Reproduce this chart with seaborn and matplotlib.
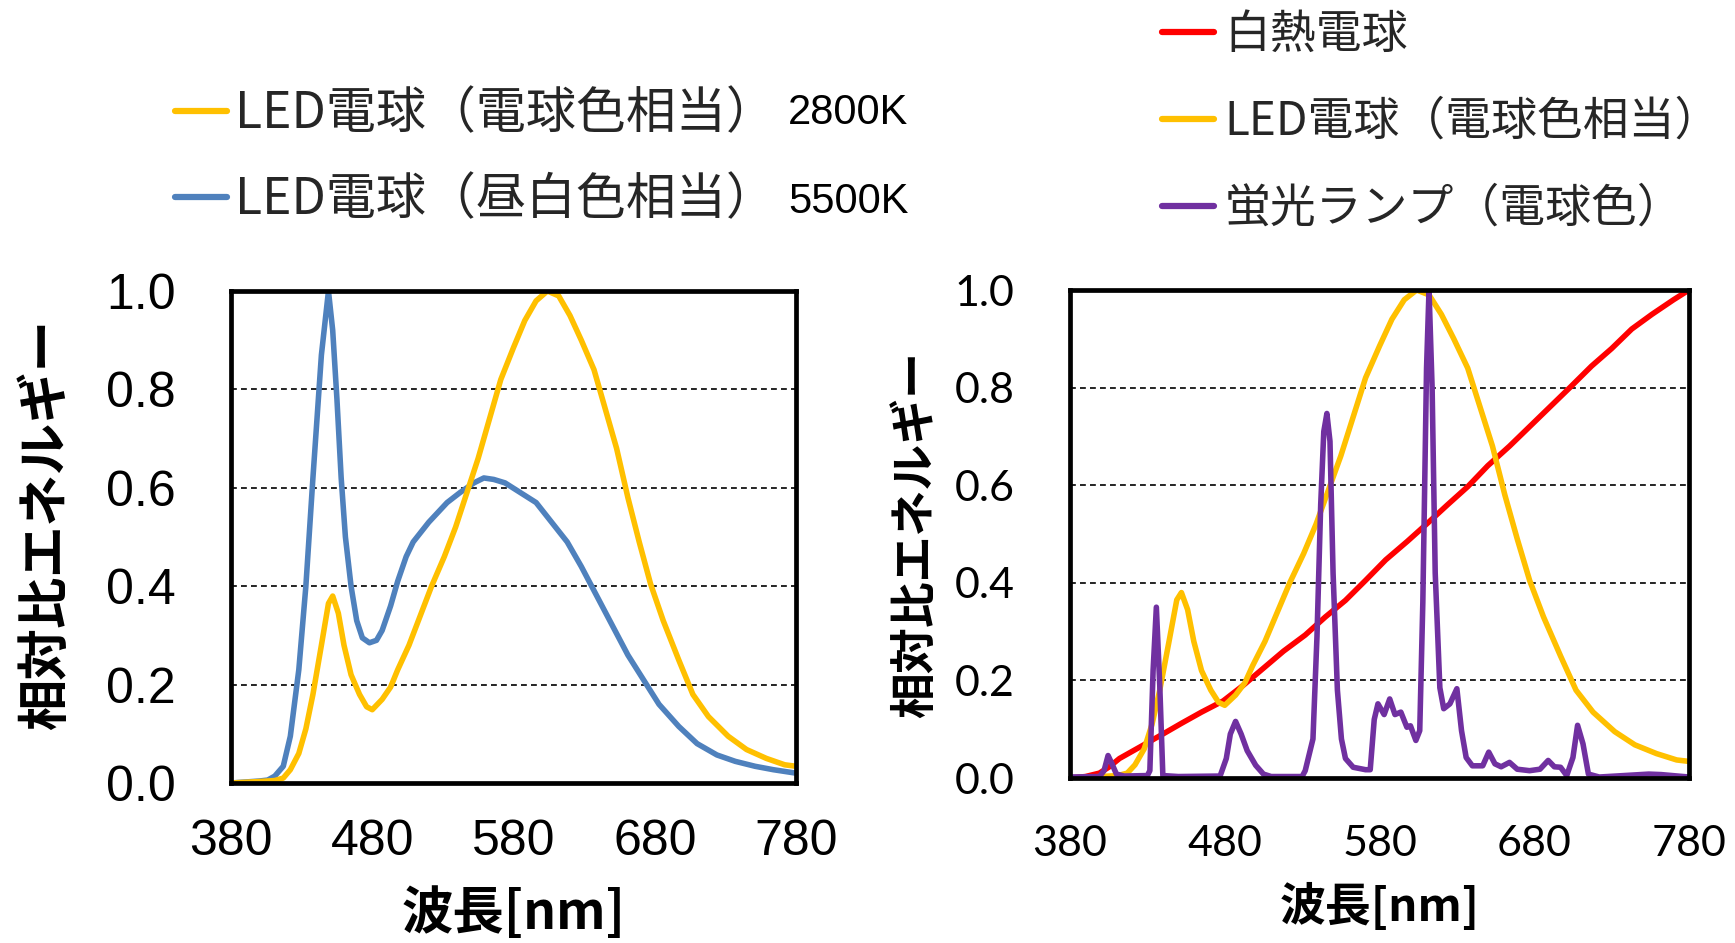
import numpy as np
import pandas as pd
import matplotlib
matplotlib.use("Agg")
import matplotlib.pyplot as plt
import seaborn as sns
from matplotlib import font_manager

# ---------------- data ----------------
led_warm_wl = [380, 400, 411, 417, 422, 428, 433, 438, 444, 449, 452, 456, 460, 465, 471, 476, 480,
               487, 493, 498, 506, 514, 522, 531, 539, 547, 555, 563, 571, 580, 588, 596, 604, 612,
               620, 628, 637, 645, 653, 661, 669, 677, 686, 697, 707, 718, 732, 745, 759, 772, 780]
led_warm_val = [0.0, 0.003, 0.005, 0.01, 0.027, 0.06, 0.11, 0.18, 0.28, 0.365, 0.38, 0.345, 0.28, 0.22,
                0.18, 0.155, 0.149, 0.17, 0.195, 0.23, 0.28, 0.34, 0.40, 0.46, 0.52, 0.59, 0.66, 0.74,
                0.82, 0.885, 0.94, 0.98, 1.0, 0.99, 0.95, 0.90, 0.84, 0.76, 0.68, 0.58, 0.49, 0.405,
                0.33, 0.25, 0.18, 0.135, 0.095, 0.068, 0.05, 0.037, 0.034]

led_day_wl = [380, 400, 406, 411, 417, 422, 428, 433, 438, 444, 449, 452, 455, 458, 461, 465, 469, 473,
              478, 483, 487, 493, 498, 504, 509, 520, 533, 542, 552, 559, 566, 574, 585, 596, 607, 618,
              628, 639, 650, 661, 672, 683, 697, 710, 724, 737, 751, 764, 780]
led_day_val = [0.0, 0.004, 0.006, 0.014, 0.034, 0.095, 0.23, 0.40, 0.62, 0.87, 1.0, 0.92, 0.78, 0.62,
               0.50, 0.40, 0.33, 0.295, 0.285, 0.29, 0.31, 0.36, 0.41, 0.46, 0.49, 0.53, 0.57, 0.59,
               0.61, 0.62, 0.617, 0.61, 0.59, 0.57, 0.53, 0.49, 0.44, 0.38, 0.32, 0.26, 0.21, 0.16,
               0.115, 0.08, 0.057, 0.044, 0.034, 0.027, 0.02]

incand_wl = [380, 390, 399, 405, 412, 426, 440, 452, 465, 479, 492, 505, 518, 532, 545, 558, 571,
             584, 598, 611, 624, 637, 650, 664, 677, 690, 703, 717, 730, 743, 756, 770, 780]
incand_val = [0.0, 0.003, 0.01, 0.022, 0.04, 0.065, 0.09, 0.112, 0.135, 0.158, 0.19, 0.225,
              0.26, 0.293, 0.33, 0.364, 0.405, 0.447, 0.485, 0.522, 0.56, 0.597, 0.64, 0.68, 0.72,
              0.76, 0.80, 0.844, 0.88, 0.92, 0.95, 0.98, 1.0]

fluor_wl = [380, 399, 402, 404.6, 407, 410, 415, 430, 431.6, 433.7, 435.8, 438, 440, 450, 477, 481,
            483.6, 487, 490.6, 494.5, 500, 505, 510, 530, 532, 537, 539.6, 542, 544, 546, 548, 550,
            552.8, 555.4, 558, 563, 571, 574, 576.6, 579, 583, 586.6, 590, 593.8, 597.7, 600, 603.5,
            606, 608, 610.4, 612, 614, 616, 619, 621.5, 625.5, 630, 633, 636, 640, 646.7, 650.6,
            654.6, 658.6, 664, 669, 677, 683.7, 689, 693, 697, 701, 705, 708, 711.5, 715, 722, 754,
            762, 780]
fluor_val = [0.002, 0.003, 0.015, 0.046, 0.03, 0.008, 0.004, 0.005, 0.015, 0.22, 0.35, 0.19, 0.005,
             0.003, 0.004, 0.04, 0.09, 0.116, 0.09, 0.056, 0.026, 0.008, 0.003, 0.003, 0.015, 0.08,
             0.29, 0.56, 0.71, 0.747, 0.69, 0.42, 0.18, 0.08, 0.04, 0.022, 0.017, 0.017, 0.12, 0.152,
             0.13, 0.162, 0.13, 0.135, 0.104, 0.107, 0.077, 0.097, 0.36, 0.84, 1.0, 0.80, 0.42, 0.185,
             0.142, 0.152, 0.183, 0.097, 0.042, 0.025, 0.025, 0.053, 0.029, 0.023, 0.032, 0.018,
             0.015, 0.018, 0.036, 0.023, 0.022, 0.005, 0.042, 0.108, 0.07, 0.008, 0.002, 0.008,
             0.007, 0.002]

lab_warm = "LED電球（電球色相当）"
lab_day = "LED電球（昼白色相当）"
lab_inc = "白熱電球"
lab_flu = "蛍光ランプ（電球色）"
k_labels = ["2800K", "5500K"]

x_ticks = [380, 480, 580, 680, 780]
y_ticks = [0.0, 0.2, 0.4, 0.6, 0.8, 1.0]
x_label = "波長[nm]"
y_label = "相対比エネルギー"

colors = {lab_warm: "#FFC000", lab_day: "#4F81BD", lab_inc: "#FF0000", lab_flu: "#7030A0"}

# ---------------- style ----------------
sns.set_theme(style="white")
names = {f.name for f in font_manager.fontManager.ttflist}
CJK = "Noto Sans CJK JP"
NUM_L = next((n for n in ["Liberation Sans Narrow", "Liberation Sans"] if n in names), "DejaVu Sans")
NUM_R = next((n for n in ["Lato", "Open Sans"] if n in names), "DejaVu Sans")
plt.rcParams["font.family"] = [CJK, "DejaVu Sans"]

W, H = 1735, 943
fig = plt.figure(figsize=(W / 100, H / 100), dpi=100)


def rect(l, t, r, b):
    return [l / W, 1 - b / H, (r - l) / W, (b - t) / H]


ax1 = fig.add_axes(rect(231, 291, 796, 783))
ax2 = fig.add_axes(rect(1070, 290, 1689, 778))

left_df = pd.concat([
    pd.DataFrame({"wl": led_day_wl, "val": led_day_val, "series": lab_day}),
    pd.DataFrame({"wl": led_warm_wl, "val": led_warm_val, "series": lab_warm}),
])
right_df = pd.concat([
    pd.DataFrame({"wl": incand_wl, "val": incand_val, "series": lab_inc}),
    pd.DataFrame({"wl": led_warm_wl, "val": led_warm_val, "series": lab_warm}),
    pd.DataFrame({"wl": fluor_wl, "val": fluor_val, "series": lab_flu}),
])

LW = 4.0
sns.lineplot(data=left_df, x="wl", y="val", hue="series", hue_order=[lab_day, lab_warm],
             palette=colors, linewidth=LW, estimator=None, sort=False, ax=ax1)
sns.lineplot(data=right_df, x="wl", y="val", hue="series", hue_order=[lab_inc, lab_warm, lab_flu],
             palette=colors, linewidth=LW, estimator=None, sort=False, ax=ax2)


def style(ax, num_font, tsize, ypad, xpad, lsize, ylx, yly, xly):
    ax.set_xlim(380, 780)
    ax.set_ylim(0, 1)
    ax.set_xticks(x_ticks)
    ax.set_xticklabels([str(v) for v in x_ticks])
    ax.set_yticks(y_ticks)
    ax.set_yticklabels([f"{v:.1f}" for v in y_ticks])
    for s in ax.spines.values():
        s.set_visible(True)
        s.set_color("black")
        s.set_linewidth(3.4)
    ax.tick_params(axis="both", direction="out", length=10, width=1.6, color="black",
                   labelsize=tsize, labelcolor="black")
    ax.tick_params(axis="y", pad=ypad)
    ax.tick_params(axis="x", pad=xpad)
    for lab in ax.get_xticklabels() + ax.get_yticklabels():
        lab.set_fontfamily(num_font)
    ax.yaxis.grid(True, color="black", linewidth=1.2, linestyle=(0, (3.5, 2.5)))
    ax.xaxis.grid(False)
    ax.set_xlabel(x_label, fontsize=lsize, fontweight="bold", color="black")
    ax.set_ylabel(y_label, fontsize=lsize, fontweight="bold", color="black", va="center")
    ax.yaxis.set_label_coords(ylx, yly)
    ax.xaxis.set_label_coords(0.5, xly)
    ax.xaxis.label.set_va("center")
    leg = ax.get_legend()
    if leg is not None:
        leg.remove()


style(ax1, NUM_L, 36, 30, 16, 37, (46 - 231) / 565, (783 - 524) / 492, -(913 - 783) / 492)
style(ax2, NUM_R, 31, 30, 24, 33, (916 - 1070) / 619, (778 - 535) / 488, -(907 - 778) / 488)

# legends
h1, l1 = ax1.get_legend_handles_labels()
h2, l2 = ax2.get_legend_handles_labels()
for h in h1 + h2:
    h.set_linewidth(4.5)
order1 = [l1.index(lab_warm), l1.index(lab_day)]
h1 = [h1[i] for i in order1]
l1 = [l1[i] for i in order1]

fig.legend(h1, l1, loc="center left", bbox_to_anchor=(175 / W, 1 - 157.5 / H), frameon=False,
           fontsize=36, handlelength=1.03, handletextpad=0.16, labelspacing=0.68, borderpad=0,
           borderaxespad=0)
fig.legend(h2, l2, loc="center left", bbox_to_anchor=(1162 / W, 1 - 121.5 / H), frameon=False,
           fontsize=33, handlelength=1.14, handletextpad=0.22, labelspacing=0.84, borderpad=0,
           borderaxespad=0)

for txt, yc in zip(k_labels, [113, 202]):
    fig.text(788 / W, 1 - yc / H, txt, fontsize=30, family=NUM_L, ha="left", va="center", color="black")

fig.savefig("out.png", dpi=100)
